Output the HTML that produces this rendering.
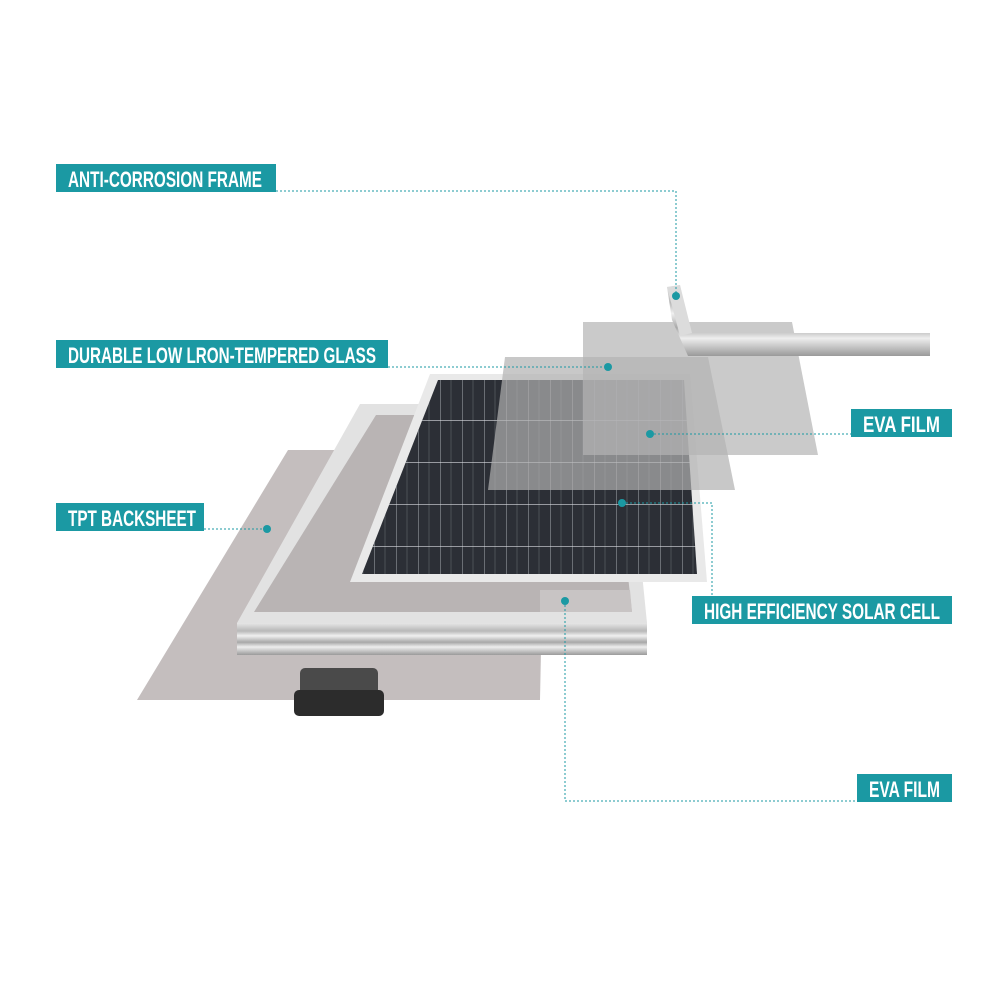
<!DOCTYPE html>
<html><head><meta charset="utf-8"><style>
html,body{margin:0;padding:0;background:#fff;width:1000px;height:1000px;overflow:hidden}
</style></head><body>
<svg width="1000" height="1000" style="position:absolute;left:0;top:0">
<defs>
<pattern id="cells" width="22" height="42" patternUnits="userSpaceOnUse">
<rect width="22" height="42" fill="#2c2f36"/>
<line x1="0" y1="0" x2="0" y2="42" stroke="#c8ccd2" stroke-width="0.8"/>
<line x1="11" y1="0" x2="11" y2="42" stroke="#6d7178" stroke-width="0.5"/>
<line x1="0" y1="0" x2="22" y2="0" stroke="#d8dbe0" stroke-width="1.2"/>
</pattern>
<linearGradient id="fr" x1="0" y1="0" x2="0" y2="1">
<stop offset="0" stop-color="#e6e6e6"/><stop offset="0.25" stop-color="#b8b8b8"/><stop offset="0.4" stop-color="#f0f0f0"/><stop offset="0.6" stop-color="#a8a8a8"/><stop offset="0.75" stop-color="#eeeeee"/><stop offset="1" stop-color="#9a9a9a"/>
</linearGradient>
</defs>
<polygon points="137,700 288,450 545,450 540,700" fill="#c4bebe"/>
<rect x="300" y="668" width="78" height="28" rx="5" fill="#4a4a4a"/>
<rect x="294" y="690" width="90" height="26" rx="5" fill="#2c2c2c"/>
<polygon points="360,404 625,404 647,623 237,623" fill="#e2e2e2"/>
<polygon points="376,415 610,415 632,612 254,612" fill="#b9b4b4"/>
<rect x="237" y="623" width="410" height="32" fill="url(#fr)"/>
<polygon points="430,374 690,374 707,582 350,582" fill="#e9e9e9"/>
<polygon points="438,380 684,380 697,574 362,574" fill="url(#cells)"/>
<polygon points="505,357 708,357 735,490 488,490" fill="#b0b0b0" fill-opacity="0.7"/>
<polygon points="583,322 792,322 818,455 583,455" fill="#b3b3b3" fill-opacity="0.7"/>
<polygon points="667,287 680,285 690,333 930,333 930,356 688,356 672,320" fill="url(#fr)"/>
<polygon points="667,287 680,285 692,333 680,336" fill="#dcdcdc"/>
<polygon points="540,590 630,590 632,612 540,612" fill="#c8c4c4"/>
<g stroke="#1b99a3" stroke-width="1" stroke-dasharray="2,2" fill="none">
<polyline points="276,191 676,191 676,296"/>
<polyline points="388,367 608,367"/>
<polyline points="650,434 851,434"/>
<polyline points="204,529 267,529"/>
<polyline points="622,503 712,503 712,597"/>
<polyline points="565,601 565,801 857,801"/>
</g>
<g fill="#1b99a3">
<circle cx="676" cy="296" r="4"/><circle cx="608" cy="367" r="4"/><circle cx="650" cy="434" r="4"/>
<circle cx="267" cy="529" r="4"/><circle cx="622" cy="503" r="4"/><circle cx="565" cy="601" r="4"/>
<rect x="56" y="164" width="220" height="28"/>
<rect x="56" y="340" width="332" height="28"/>
<rect x="56" y="503" width="148" height="28"/>
<rect x="851" y="409" width="101" height="28"/>
<rect x="692" y="596" width="260" height="28"/>
<rect x="857" y="774" width="95" height="28"/>
</g>
<g fill="#fff" font-family="Liberation Sans, sans-serif" font-weight="bold" font-size="22">
<text x="68" y="187" textLength="194" lengthAdjust="spacingAndGlyphs">ANTI-CORROSION FRAME</text>
<text x="68" y="363" textLength="308" lengthAdjust="spacingAndGlyphs">DURABLE LOW LRON-TEMPERED GLASS</text>
<text x="68" y="526" textLength="128" lengthAdjust="spacingAndGlyphs">TPT BACKSHEET</text>
<text x="863" y="432" textLength="77" lengthAdjust="spacingAndGlyphs">EVA FILM</text>
<text x="704" y="619" textLength="236" lengthAdjust="spacingAndGlyphs">HIGH EFFICIENCY SOLAR CELL</text>
<text x="869" y="797" textLength="71" lengthAdjust="spacingAndGlyphs">EVA FILM</text>
</g>
</svg>
</body></html>
